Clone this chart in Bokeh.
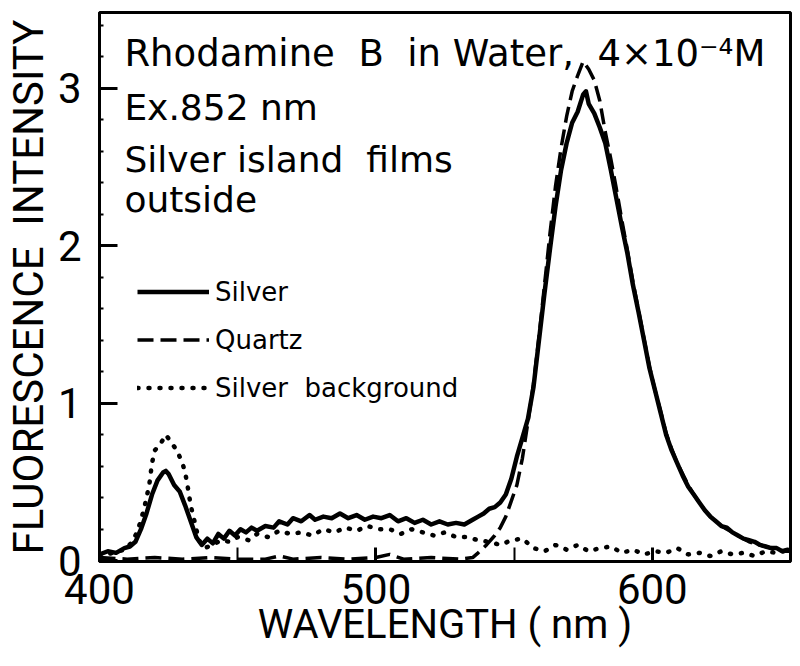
from bokeh.plotting import figure
from bokeh.models import Legend, LegendItem, Label, FixedTicker
from bokeh.embed import file_html
from bokeh.resources import INLINE

# ---------------- data ----------------
wl_silver = [400, 403, 406, 409, 411, 413, 415, 417, 419, 421, 423, 424, 425, 427, 429, 431, 433, 435, 437,
             439, 441, 443, 445, 447, 449, 451, 453, 455, 457, 460, 463, 465, 468, 470, 473, 476, 478, 481,
             484, 487, 490, 493, 496, 499, 502, 505, 508, 511, 514, 517, 520, 523, 526, 529, 532, 535, 537,
             539, 541, 543, 545, 547, 549, 551, 553, 555, 557, 559, 561, 563, 565, 567, 569, 571, 573, 575,
             576, 577, 579, 581, 583, 585, 587, 589, 591, 593, 595, 597, 599, 601, 603, 605, 607, 609, 611,
             613, 615, 617, 619, 621, 623, 625, 627, 629, 631, 633, 635, 637, 639, 641, 643, 645, 647, 649, 650]
silver = [0.04, 0.06, 0.05, 0.08, 0.09, 0.12, 0.20, 0.30, 0.42, 0.51, 0.56, 0.57, 0.55, 0.48, 0.44, 0.35, 0.25, 0.15, 0.10,
          0.14, 0.11, 0.17, 0.14, 0.19, 0.16, 0.20, 0.18, 0.21, 0.19, 0.22, 0.21, 0.25, 0.23, 0.27, 0.25, 0.29, 0.26, 0.28,
          0.27, 0.30, 0.27, 0.29, 0.26, 0.28, 0.27, 0.29, 0.25, 0.27, 0.24, 0.26, 0.23, 0.25, 0.23, 0.24, 0.23, 0.26, 0.28,
          0.30, 0.33, 0.34, 0.37, 0.42, 0.52, 0.66, 0.78, 0.90, 1.10, 1.40, 1.70, 1.98, 2.25, 2.48, 2.65, 2.78, 2.85, 2.96,
          2.98, 2.90, 2.84, 2.75, 2.65, 2.48, 2.30, 2.12, 1.95, 1.75, 1.58, 1.40, 1.22, 1.08, 0.94, 0.80, 0.70, 0.62, 0.54,
          0.47, 0.42, 0.37, 0.32, 0.28, 0.25, 0.22, 0.21, 0.18, 0.16, 0.14, 0.13, 0.12, 0.10, 0.09, 0.08, 0.08, 0.06, 0.07, 0.06]

wl_quartz = [400, 410, 420, 430, 440, 450, 460, 465, 470, 480, 490, 500, 505, 510, 520, 530, 535, 537, 540,
             543, 545, 547, 549, 551, 553, 555, 557, 559, 561, 563, 565, 567, 569, 571, 573, 575, 577, 579,
             581, 583, 585, 587, 589, 591, 593, 595, 597, 599, 601, 603, 605, 607, 609, 611, 613, 615, 617,
             619, 621, 623, 625, 627, 629, 631, 633, 635, 637, 639, 641, 643, 645, 647, 650]
quartz = [0.02, 0.01, 0.02, 0.01, 0.02, 0.01, 0.01, 0.03, 0.01, 0.02, 0.01, 0.02, 0.04, 0.01, 0.02, 0.01, 0.02, 0.05, 0.10,
          0.16, 0.21, 0.28, 0.38, 0.48, 0.65, 0.88, 1.12, 1.42, 1.75, 2.08, 2.38, 2.62, 2.82, 2.98, 3.08, 3.17, 3.12, 3.05,
          2.92, 2.72, 2.55, 2.36, 2.16, 1.97, 1.77, 1.59, 1.41, 1.23, 1.08, 0.95, 0.81, 0.71, 0.62, 0.55, 0.48, 0.42, 0.37,
          0.32, 0.28, 0.25, 0.22, 0.20, 0.18, 0.16, 0.14, 0.12, 0.11, 0.10, 0.09, 0.08, 0.07, 0.06, 0.06]

wl_background = [400, 405, 409, 412, 414, 416, 418, 419, 420, 422, 424, 426, 428, 430, 431, 432, 433, 434, 435,
                 436, 438, 441, 444, 447, 450, 454, 457, 461, 465, 469, 473, 477, 481, 485, 489, 493, 497, 501,
                 505, 509, 513, 517, 521, 525, 529, 533, 537, 541, 545, 549, 553, 557, 561, 565, 569, 573, 577,
                 581, 585, 589, 593, 597, 601, 605, 609, 613, 617, 621, 625, 629, 633, 637, 641, 645, 650]
background = [0.03, 0.05, 0.07, 0.12, 0.20, 0.32, 0.48, 0.62, 0.70, 0.74, 0.80, 0.75, 0.70, 0.62, 0.56, 0.46, 0.35, 0.28, 0.20,
              0.13, 0.08, 0.10, 0.13, 0.12, 0.15, 0.13, 0.17, 0.15, 0.19, 0.17, 0.18, 0.16, 0.20, 0.18, 0.21, 0.19, 0.22, 0.20,
              0.20, 0.17, 0.20, 0.18, 0.16, 0.18, 0.15, 0.15, 0.13, 0.12, 0.10, 0.13, 0.14, 0.08, 0.06, 0.10, 0.07, 0.10, 0.06,
              0.08, 0.09, 0.05, 0.07, 0.04, 0.06, 0.05, 0.08, 0.04, 0.05, 0.03, 0.06, 0.04, 0.05, 0.03, 0.06, 0.05, 0.07]

NB = "\u00a0"
series_labels = ["Silver", "Quartz", "Silver" + NB + NB + "background"]
x_ticks = [400, 500, 600]
y_ticks = [0, 1, 2, 3]
annotation_lines = ["Rhodamine" + NB + NB + "B" + NB + NB + "in" + NB + "Water," + NB + NB + "4\u00d710\u207b\u2074M",
                    "Ex.852" + NB + "nm",
                    "Silver" + NB + "island" + NB + NB + "films",
                    "outside"]
x_title = "WAVELENGTH" + NB + "(" + NB + "nm" + NB + ")"
y_title = "FLUORESCENCE" + NB + NB + "INTENSITY"

# ---------------- figure ----------------
AX_FONT = "Roboto"
TXT_FONT = "DejaVu Sans"

p = figure(width=796, height=664, x_range=(400, 650), y_range=(-0.005, 3.48),
           output_backend="svg", toolbar_location=None,
           min_border_left=97, min_border_right=6, min_border_top=12, min_border_bottom=103)
p.background_fill_color = "white"
p.border_fill_color = "white"
p.outline_line_color = "black"
p.outline_line_width = 3
p.grid.visible = False

for ax in (p.xaxis[0], p.yaxis[0]):
    ax.axis_line_color = "black"
    ax.axis_line_width = 3
    ax.major_tick_line_width = 3
    ax.minor_tick_line_width = 2
    ax.major_tick_out = 0
    ax.minor_tick_out = 0
    ax.major_label_text_font = AX_FONT
    ax.major_label_text_font_size = "42px"
    ax.major_label_text_color = "black"
    ax.axis_label_text_font = AX_FONT
    ax.axis_label_text_font_style = "normal"
    ax.axis_label_text_color = "black"

p.xaxis.ticker = FixedTicker(ticks=x_ticks, minor_ticks=[450, 550])
p.xaxis.major_tick_in = 14
p.xaxis.minor_tick_in = 14
p.xaxis.major_label_standoff = 12
p.xaxis.axis_label = x_title
p.xaxis.axis_label_text_font_size = "40px"
p.xaxis.axis_label_standoff = -6

p.yaxis.ticker = FixedTicker(ticks=y_ticks, minor_ticks=[0.2, 0.4, 0.6, 0.8, 1.2, 1.4, 1.6, 1.8, 2.2, 2.4, 2.6, 2.8, 3.2, 3.4])
p.yaxis.major_tick_in = 18
p.yaxis.minor_tick_in = 4
p.yaxis.major_label_standoff = 18
p.yaxis.axis_label = y_title
p.yaxis.axis_label_text_font_size = "42px"
p.yaxis.axis_label_standoff = 2

r_bg = p.line(wl_background, background, line_color="black", line_width=4.5,
              line_dash="1 10", line_cap="round")
r_q = p.line(wl_quartz, quartz, line_color="black", line_width=3.5, line_dash="16 7")
r_s = p.line(wl_silver, silver, line_color="black", line_width=4.5, line_join="round")

legend = Legend(items=[LegendItem(label=series_labels[0], renderers=[r_s]),
                       LegendItem(label=series_labels[1], renderers=[r_q]),
                       LegendItem(label=series_labels[2], renderers=[r_bg])],
                location=(38, 158), orientation="vertical",
                background_fill_alpha=0, border_line_alpha=0,
                padding=0, margin=0, spacing=17,
                glyph_width=72, glyph_height=31, label_height=31, label_standoff=6,
                label_text_font=TXT_FONT, label_text_font_size="26px", label_text_color="black")
p.add_layout(legend, "center")

ys = [3.22, 2.88, 2.55, 2.29]
sizes = ["37px", "36px", "36px", "36px"]
for txt, yv, fs in zip(annotation_lines, ys, sizes):
    p.add_layout(Label(x=409, y=yv, text=txt, text_font=TXT_FONT, text_font_size=fs,
                       text_color="black", text_baseline="alphabetic", text_align="left"))

open("out.html", "w").write(file_html(p, INLINE))
